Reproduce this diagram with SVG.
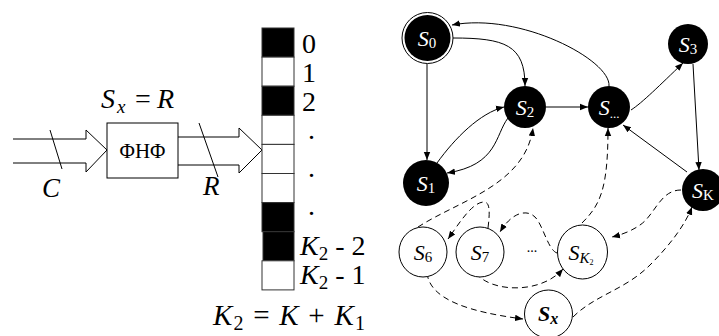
<svg xmlns="http://www.w3.org/2000/svg" width="719" height="336" viewBox="0 0 719 336">
<style>
.t{fill:#000;font-family:"Liberation Serif","Times New Roman",serif}
.i{font-style:italic}
.w{fill:#fff}
.edge{fill:none;stroke:#000;stroke-width:1}
.dash{stroke-dasharray:6 4}
.cell{stroke:#333;stroke-width:1}
.nb{fill:#000;stroke:none}
.nw{fill:#fff;stroke:#000;stroke-width:1}
</style>
<defs>
<marker id="ah" viewBox="0 0 10 10" refX="10" refY="5" markerWidth="8" markerHeight="8" markerUnits="userSpaceOnUse" orient="auto">
<path d="M0,1 L10,5 L0,9 z" fill="#000"/>
</marker>
</defs>

<g id="input-bus">
<path class="edge" d="M13,139 H86 V130 L107,150 L86,172 V163 H13"/>
<line class="edge" x1="50" y1="130" x2="62" y2="169"/>
<text class="t i" x="42" y="197" font-size="27">C</text>
</g>
<g id="fnf">
<rect x="107" y="123" width="71" height="55" fill="#fff" stroke="#000" stroke-width="1"/>
<text class="t" x="142.5" y="158" font-size="21" text-anchor="middle">ΦНΦ</text>
<text class="t" y="108" font-size="28"><tspan class="i" x="101">S</tspan><tspan class="i" font-size="19" x="117" dy="5">x</tspan><tspan x="135" dy="-5">=</tspan><tspan class="i" x="157">R</tspan></text>
</g>
<g id="output-bus">
<path class="edge" d="M178,137 H239 V128 L262,150 L239,173 V165 H178"/>
<line class="edge" x1="199" y1="123" x2="218" y2="177"/>
<text class="t i" x="203" y="195" font-size="27">R</text>
</g>

<g id="register">
<rect class="cell" x="262" y="28" width="32" height="29.1" fill="#000"/>
<rect class="cell" x="262" y="57.1" width="32" height="29.1" fill="#fff"/>
<rect class="cell" x="262" y="86.2" width="32" height="29.1" fill="#000"/>
<rect class="cell" x="262" y="115.3" width="32" height="29.1" fill="#fff"/>
<rect class="cell" x="262" y="144.4" width="32" height="29.1" fill="#fff"/>
<rect class="cell" x="262" y="173.5" width="32" height="29.1" fill="#fff"/>
<rect class="cell" x="262" y="202.6" width="32" height="29.1" fill="#000"/>
<rect class="cell" x="263" y="231.7" width="31" height="29.1" fill="#000"/>
<rect class="cell" x="262" y="260.8" width="32" height="29.1" fill="#fff"/>
<text class="t" x="302" y="53" font-size="28">0</text>
<text class="t" x="302" y="82" font-size="28">1</text>
<text class="t" x="302" y="111" font-size="28">2</text>
<text class="t" x="308" y="139" font-size="28">.</text>
<text class="t" x="308" y="177" font-size="28">.</text>
<text class="t" x="308" y="215" font-size="28">.</text>
<text class="t" x="300" y="255" font-size="28"><tspan class="i">K</tspan><tspan font-size="19" dy="5">2</tspan><tspan dy="-5"> - 2</tspan></text>
<text class="t" x="300" y="284" font-size="28"><tspan class="i">K</tspan><tspan font-size="19" dy="5">2</tspan><tspan dy="-5"> - 1</tspan></text>
<text class="t" x="213" y="325" font-size="29" textLength="152" lengthAdjust="spacing"><tspan class="i">K</tspan><tspan font-size="20" dy="5">2</tspan><tspan dy="-5"> = </tspan><tspan class="i">K</tspan><tspan> + </tspan><tspan class="i">K</tspan><tspan font-size="20" dy="5">1</tspan></text>
</g>

<g id="connectors">
<path class="edge" marker-end="url(#ah)" d="M427,64 V160"/>
<path class="edge" marker-end="url(#ah)" d="M453,38 C505,38 525,45 525,86"/>
<path class="edge" marker-end="url(#ah)" d="M609,86 C611,60 520,12 452,25"/>
<path class="edge" marker-end="url(#ah)" d="M546,107 H588"/>
<path class="edge" marker-end="url(#ah)" d="M631,110 C642,103 660,85 683,63"/>
<path class="edge" marker-end="url(#ah)" d="M693,64 L699,170"/>
<path class="edge" marker-end="url(#ah)" d="M687,172 L623,125"/>
<path class="edge" marker-end="url(#ah)" d="M437,163 C455,138 480,113 504,107"/>
<path class="edge" marker-end="url(#ah)" d="M508,118 C495,135 498,165 447,173"/>
<path class="edge dash" marker-end="url(#ah)" d="M418,227 C460,200 525,185 533,128"/>
<path class="edge dash" marker-end="url(#ah)" d="M488,228 C490,212 490,202 484,202 C472,202 458,225 448,239"/>
<path class="edge dash" marker-end="url(#ah)" d="M557,253 C548,250 543,225 535,217 C527,209 512,212 500,232"/>
<path class="edge dash" marker-end="url(#ah)" d="M582,223 C600,205 608,190 608,128"/>
<path class="edge dash" marker-end="url(#ah)" d="M681,190 C660,190 655,215 640,225 C630,232 620,235 612,237"/>
<path class="edge dash" marker-end="url(#ah)" d="M476,273 C490,292 540,295 563,269"/>
<path class="edge dash" marker-end="url(#ah)" d="M427,273 C430,300 470,312 523,319"/>
<path class="edge dash" marker-end="url(#ah)" d="M573,317 C595,295 625,290 650,265 C670,245 685,225 692,207"/>
</g>

<g id="S0">
<circle cx="427.5" cy="38" r="25.5" fill="#fff" stroke="#000" stroke-width="1"/>
<circle class="nb" cx="427.5" cy="38" r="23"/>
<text class="t w" x="427" y="46" font-size="22" text-anchor="middle"><tspan class="i">S</tspan><tspan font-size="15" dy="2">0</tspan></text>
</g>
<g id="S1">
<circle class="nb" cx="426" cy="183" r="23"/>
<text class="t w" x="426" y="191" font-size="22" text-anchor="middle"><tspan class="i">S</tspan><tspan font-size="15" dy="2">1</tspan></text>
</g>
<g id="S2">
<circle class="nb" cx="525" cy="107" r="21"/>
<text class="t w" x="525" y="115" font-size="22" text-anchor="middle"><tspan class="i">S</tspan><tspan font-size="15" dy="2">2</tspan></text>
</g>
<g id="Sdots">
<circle class="nb" cx="609" cy="107" r="21"/>
<text class="t w" x="609" y="115" font-size="22" text-anchor="middle"><tspan class="i">S</tspan><tspan font-size="13" dy="3">...</tspan></text>
</g>
<g id="S3">
<circle class="nb" cx="688" cy="44" r="20"/>
<text class="t w" x="688" y="52" font-size="22" text-anchor="middle"><tspan class="i">S</tspan><tspan font-size="15" dy="2">3</tspan></text>
</g>
<g id="SK">
<circle class="nb" cx="703" cy="190" r="21"/>
<text class="t w" x="703" y="198" font-size="22" text-anchor="middle"><tspan class="i">S</tspan><tspan font-size="15" dy="2">K</tspan></text>
</g>
<g id="S6">
<ellipse class="nw" cx="423" cy="252" rx="24" ry="25"/>
<text class="t" x="423" y="260" font-size="22" text-anchor="middle"><tspan class="i">S</tspan><tspan font-size="15" dy="2">6</tspan></text>
</g>
<g id="S7">
<ellipse class="nw" cx="480" cy="252" rx="24" ry="25"/>
<text class="t" x="480" y="260" font-size="22" text-anchor="middle"><tspan class="i">S</tspan><tspan font-size="15" dy="2">7</tspan></text>
</g>
<text class="t" x="532" y="252" font-size="14" text-anchor="middle">...</text>
<g id="SK2">
<ellipse class="nw" cx="582.5" cy="252" rx="25" ry="27"/>
<text class="t" x="581" y="260" font-size="22" text-anchor="middle"><tspan class="i">S</tspan><tspan class="i" font-size="15" dy="3">K</tspan><tspan font-size="8" dy="2">2</tspan></text>
</g>
<g id="Sx">
<circle class="nw" cx="548.5" cy="314" r="24"/>
<text class="t" x="548" y="321" font-size="22" text-anchor="middle" font-weight="bold"><tspan class="i">S</tspan><tspan class="i" font-size="16" dy="3">x</tspan></text>
</g>
</svg>
